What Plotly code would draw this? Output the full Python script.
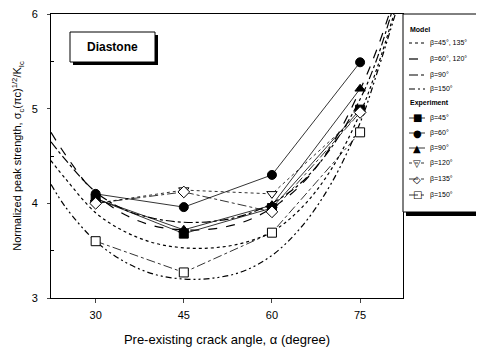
import plotly.graph_objects as go

# ---------------- data ----------------
angles = [30, 45, 60, 75]
exp_b45 = [4.05, 3.68, 3.95, 4.99]
exp_b60 = [4.10, 3.96, 4.30, 5.49]
exp_b90 = [4.05, 3.72, 3.98, 5.21]
exp_b120 = [4.00, 4.14, 4.10, 4.95]
exp_b135 = [4.00, 4.12, 3.91, 4.96]
exp_b150 = [3.60, 3.27, 3.69, 4.75]

model_x = [22.4, 25, 30, 35, 40, 45, 50, 55, 60, 65, 70, 75, 78, 81]
model_b45_135 = [4.45, 4.25, 3.90, 3.70, 3.58, 3.53, 3.53, 3.58, 3.70, 3.95, 4.35, 4.95, 5.45, 6.05]
model_b60_120 = [4.75, 4.50, 4.10, 3.88, 3.76, 3.72, 3.73, 3.80, 3.95, 4.20, 4.60, 5.20, 5.65, 6.20]
model_b90 = [4.65, 4.45, 4.12, 3.93, 3.84, 3.80, 3.81, 3.87, 4.00, 4.22, 4.58, 5.10, 5.55, 6.15]
model_b150 = [4.20, 3.95, 3.60, 3.38, 3.25, 3.20, 3.21, 3.28, 3.45, 3.75, 4.20, 4.85, 5.40, 6.00]

x_ticks = [30, 45, 60, 75]
y_ticks = [3, 4, 5, 6]

FONT = "Liberation Sans, Arial, sans-serif"

# page body has an 8px default margin, so the figure is offset by 8px
OFF = 8
W, H = 484 - OFF, 348 - OFF
L, R, T, B = 51 - OFF, 81, 14 - OFF, 50
PW, PH = W - L - R, H - T - B


def px(xp):
    # xp: pixel x in the screenshot
    return (xp - OFF - L) / PW


def py(yp):
    return (H - B - (yp - OFF)) / PH


fig = go.Figure()

models = [
    ("\u03b2=45\u00b0, 135\u00b0", model_b45_135, "dot"),
    ("\u03b2=60\u00b0, 120\u00b0", model_b60_120, "dash"),
    ("\u03b2=90\u00b0", model_b90, "dashdot"),
    ("\u03b2=150\u00b0", model_b150, "6px,3px,2px,3px,2px,3px"),
]
for name, ys, dash in models:
    fig.add_trace(go.Scatter(
        x=model_x, y=ys, mode="lines", name=name, showlegend=False,
        line=dict(color="black", width=1.2, dash=dash, shape="spline", smoothing=1.0),
    ))

exps = [
    ("\u03b2=45\u00b0", exp_b45, "square", "black", "solid", "\u25a0"),
    ("\u03b2=60\u00b0", exp_b60, "circle", "black", "solid", "\u25cf"),
    ("\u03b2=90\u00b0", exp_b90, "triangle-up", "black", "solid", "\u25b2"),
    ("\u03b2=120\u00b0", exp_b120, "triangle-down", "white", "dot", "\u25bd"),
    ("\u03b2=135\u00b0", exp_b135, "diamond", "white", "dashdot", "\u25c7"),
    ("\u03b2=150\u00b0", exp_b150, "square", "white", "dashdot", "\u25a1"),
]
for name, ys, sym, fill, dash, glyph in exps:
    fig.add_trace(go.Scatter(
        x=angles, y=ys, mode="lines+markers", name=name, showlegend=False,
        line=dict(color="black", width=0.8, dash=dash),
        marker=dict(symbol=sym, size=9, color=fill, line=dict(color="black", width=1)),
    ))

shapes = []
annos = []

# Diastone label box with shadow
bx0, by0, bx1, by1 = 70, 32, 155, 62
shapes.append(dict(type="rect", xref="paper", yref="paper", x0=px(bx0 + 3), x1=px(bx1 + 3),
                   y0=py(by1 + 3), y1=py(by0 + 3), fillcolor="black", line=dict(width=0)))
shapes.append(dict(type="rect", xref="paper", yref="paper", x0=px(bx0), x1=px(bx1),
                   y0=py(by1), y1=py(by0), fillcolor="white", line=dict(color="black", width=1)))
annos.append(dict(x=px((bx0 + bx1) / 2), y=py((by0 + by1) / 2), xref="paper", yref="paper",
                  text="<b>Diastone</b>", showarrow=False, xanchor="center", yanchor="middle",
                  font=dict(family=FONT, size=12, color="black")))

# legend box with shadow
lx0, ly0, lx1, ly1 = 403, 14, 482, 212
shapes.append(dict(type="rect", xref="paper", yref="paper", x0=px(lx0 + 3), x1=px(lx1 + 4),
                   y0=py(ly1 + 4), y1=py(ly0 + 3), fillcolor="black", line=dict(width=0)))
shapes.append(dict(type="rect", xref="paper", yref="paper", x0=px(lx0), x1=px(lx1),
                   y0=py(ly1), y1=py(ly0), fillcolor="white", line=dict(color="black", width=1)))

sx0, sx1, tx = 409, 425, 428


def leg_text(yp, text, x=tx, size=7):
    annos.append(dict(x=px(x), y=py(yp), xref="paper", yref="paper", text=text,
                      showarrow=False, xanchor="left", yanchor="middle",
                      font=dict(family=FONT, size=size, color="black")))


leg_text(29, "<b>Model</b>", x=408)
model_rows = [43, 59, 75, 89]
for (name, _, dash), yp in zip(models, model_rows):
    shapes.append(dict(type="line", xref="paper", yref="paper", x0=px(sx0), x1=px(sx1),
                       y0=py(yp), y1=py(yp), line=dict(color="black", width=1.2, dash=dash)))
    leg_text(yp, name)

leg_text(103, "<b>Experiment</b>", x=408)
exp_rows = [118, 133, 148, 163, 179, 195]
for (name, _, sym, fill, dash, glyph), yp in zip(exps, exp_rows):
    shapes.append(dict(type="line", xref="paper", yref="paper", x0=px(sx0), x1=px(sx1),
                       y0=py(yp), y1=py(yp), line=dict(color="black", width=0.8, dash=dash)))
    annos.append(dict(x=px((sx0 + sx1) / 2), y=py(yp), xref="paper", yref="paper", text=glyph,
                      showarrow=False, xanchor="center", yanchor="middle",
                      font=dict(family="DejaVu Sans", size=10, color="black")))
    leg_text(yp, name)

fig.update_layout(
    width=W, height=H,
    margin=dict(l=L, r=R, t=T, b=B, autoexpand=False),
    paper_bgcolor="white", plot_bgcolor="white",
    font=dict(family=FONT, size=11, color="black"),
    showlegend=False,
    shapes=shapes,
    annotations=annos,
    xaxis=dict(
        range=[22.4, 82.3], tickvals=x_ticks, ticks="outside", ticklen=4,
        showgrid=False, zeroline=False, showline=True, linecolor="black", linewidth=1,
        mirror=True, automargin=False, ticklabeloverflow="allow", ticklabelstandoff=3,
        title=dict(text="Pre-existing crack angle, \u03b1 (degree)", font=dict(size=13), standoff=14),
    ),
    yaxis=dict(
        range=[3, 6], tickvals=y_ticks, ticks="outside", ticklen=3,
        minor=dict(tickvals=[3.5, 4.5, 5.5], ticks="inside", ticklen=3, tickcolor="black"),
        showgrid=False, zeroline=False, showline=True, linecolor="black", linewidth=1,
        mirror=True, automargin=False, ticklabeloverflow="allow", ticklabelstandoff=7,
        title=dict(text="Normalized peak strength, \u03c3<sub>c</sub>(\u03c0c)<sup>1/2</sup>/K<sub>Ic</sub>",
                   font=dict(size=11), standoff=7),
    ),
)

fig.write_html("out.html")
